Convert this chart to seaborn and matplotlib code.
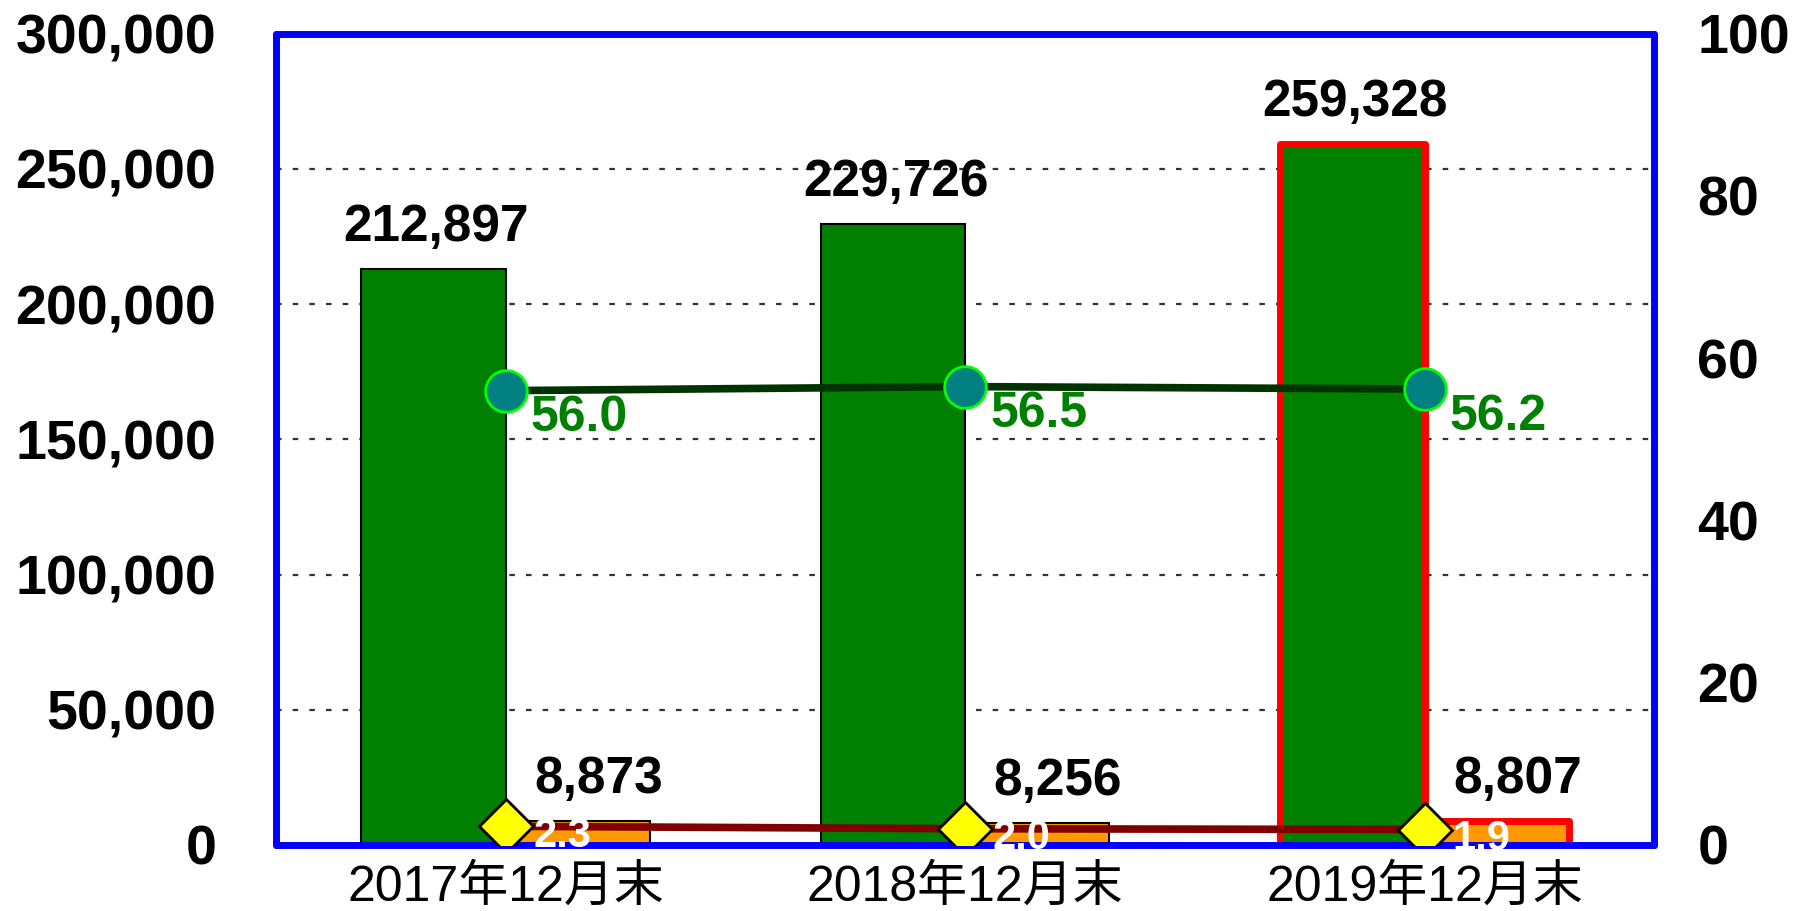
import numpy as np
import pandas as pd
import matplotlib
matplotlib.use("Agg")
import matplotlib.pyplot as plt
import seaborn as sns

# data
periods = ["2017年12月末", "2018年12月末", "2019年12月末"]
bar_main = [212897, 229726, 259328]
bar_sub = [8873, 8256, 8807]
line_upper = [56.0, 56.5, 56.2]
line_lower = [2.3, 2.0, 1.9]
left_ticks = [0, 50000, 100000, 150000, 200000, 250000, 300000]
right_ticks = [0, 20, 40, 60, 80, 100]

df = pd.DataFrame({
    "period": periods * 2,
    "series": ["main"] * 3 + ["sub"] * 3,
    "value": bar_main + bar_sub,
})

sns.set_style("white")
plt.rcParams["font.family"] = ["Liberation Sans", "Noto Sans CJK JP", "DejaVu Sans"]
plt.rcParams["text.color"] = "black"
plt.rcParams["xtick.color"] = "black"
plt.rcParams["ytick.color"] = "black"

fig, ax = plt.subplots(figsize=(18.04, 9.11), dpi=100)
fig.subplots_adjust(left=0.153, right=0.917, bottom=0.0725, top=0.963)

sns.barplot(
    data=df, x="period", y="value", hue="series",
    palette=["#008000", "#FF9900"], saturation=1,
    width=0.628, edgecolor="black", linewidth=1.5,
    legend=False, ax=ax,
)

# last period highlighted with red outline
for cont in ax.containers:
    last = cont.patches[-1]
    last.set_edgecolor("#FF0000")
    last.set_linewidth(5)
    last.set_joinstyle("round")

# value labels above the bars
for cont, vals, dx in zip(ax.containers, [bar_main, bar_sub], [2, 15]):
    for p, v in zip(cont.patches, vals):
        ax.annotate(f"{v:,}", (p.get_x() + p.get_width() / 2, v),
                    xytext=(dx, 20), textcoords="offset points",
                    ha="center", va="baseline", fontsize=37,
                    fontweight="bold", color="black", zorder=5)

ax.set_ylim(0, 300000)
ax.set_xlim(-0.5, 2.5)
ax.set_yticks(left_ticks, labels=[f"{v:,}" for v in left_ticks],
              fontsize=40, fontweight="bold")
ax.set_xticks(range(len(periods)), labels=periods, fontsize=36)
ax.tick_params(axis="y", length=0, pad=43)
ax.tick_params(axis="x", length=0, pad=14)
ax.set_xlabel("")
ax.set_ylabel("")
ax.yaxis.grid(True, color="#333333", linestyle=(0, (2.5, 5)), linewidth=1.6)
ax.xaxis.grid(False)
ax.set_axisbelow(True)
for sp in ax.spines.values():
    sp.set_visible(True)
    sp.set_color("#0000FF")
    sp.set_linewidth(5)
    sp.set_capstyle("round")

# right axis lines
ax2 = ax.twinx()
xpos = np.arange(len(periods))
sns.lineplot(x=xpos, y=line_upper, ax=ax2, color="#003300", linewidth=5.5,
             marker="o", markersize=30, markerfacecolor="#008080",
             markeredgecolor="#00FF00", markeredgewidth=2)
sns.lineplot(x=xpos, y=line_lower, ax=ax2, color="#800000", linewidth=5.5,
             marker="D", markersize=27, markerfacecolor="#FFFF00",
             markeredgecolor="black", markeredgewidth=2)

for x, v in zip(xpos, line_upper):
    ax2.annotate(f"{v:.1f}", (x, v), xytext=(18, -20), textcoords="offset points",
                 ha="left", va="center", fontsize=36, fontweight="bold",
                 color="#008000")
for x, v in zip(xpos, line_lower):
    ax2.annotate(f"{v:.1f}", (x, v), xytext=(20, -7), textcoords="offset points",
                 ha="left", va="center", fontsize=30, fontweight="bold",
                 color="white")

ax2.set_ylim(0, 100)
ax2.set_yticks(right_ticks, labels=[str(v) for v in right_ticks],
               fontsize=40, fontweight="bold")
ax2.tick_params(axis="y", length=0, pad=31)
ax2.set_xlim(-0.5, 2.5)
ax2.set_ylabel("")
ax2.grid(False)
for sp in ax2.spines.values():
    sp.set_visible(False)

fig.savefig("out.png", dpi=100)
